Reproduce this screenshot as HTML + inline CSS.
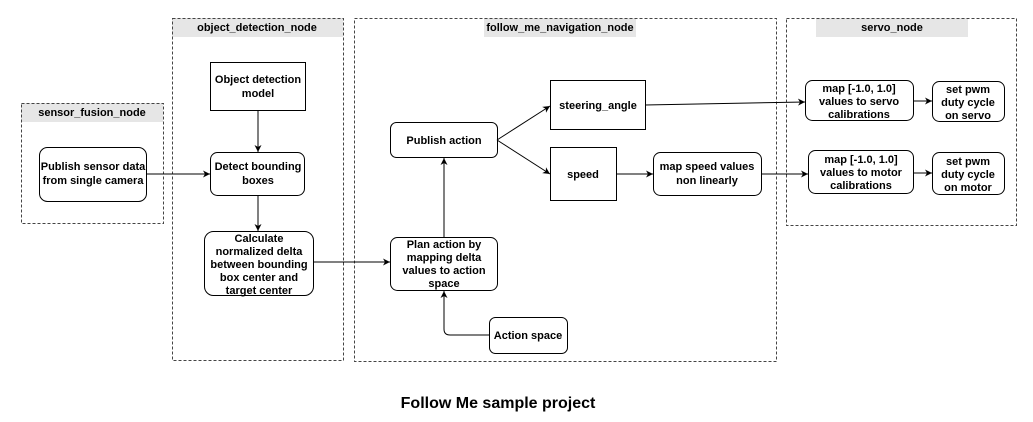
<!DOCTYPE html>
<html><head><meta charset="utf-8"><style>
html,body{margin:0;padding:0;background:#fff;}
svg{display:block;}
text{font-family:"Liberation Sans",Arial,sans-serif;font-weight:bold;font-size:11px;fill:#000;text-anchor:middle;}
.c{fill:none;stroke:#444;stroke-width:1;stroke-dasharray:3,2;}
.h{fill:#e6e6e6;stroke:none;}
.b{fill:#fff;stroke:#000;stroke-width:1;}
.l{fill:none;stroke:#000;stroke-width:1;}
</style></head><body>
<svg width="1033" height="422" viewBox="0 0 1033 422" xmlns="http://www.w3.org/2000/svg">
<defs><marker id="a" markerWidth="8" markerHeight="8" refX="7" refY="4" orient="auto" markerUnits="userSpaceOnUse"><path d="M0,0.5 L7,4 L0,7.5 L2,4 Z" fill="#000"/></marker></defs>
<!-- containers -->
<rect class="h" x="21" y="103" width="142" height="19"/>
<rect class="c" x="21.5" y="103.5" width="142" height="120"/>
<text x="92" y="116">sensor_fusion_node</text>
<rect class="h" x="172" y="18" width="171" height="19"/>
<rect class="c" x="172.5" y="18.5" width="171" height="342"/>
<text x="257" y="31">object_detection_node</text>
<rect class="h" x="484" y="18" width="152" height="19"/>
<rect class="c" x="354.5" y="18.5" width="422" height="343"/>
<text x="560" y="31">follow_me_navigation_node</text>
<rect class="h" x="816" y="18" width="152" height="19"/>
<rect class="c" x="786.5" y="18.5" width="230" height="207"/>
<text x="892" y="31">servo_node</text>
<!-- nodes -->
<rect class="b" x="39.5" y="147.5" width="107" height="54" rx="8"/>
<text x="93" y="170">Publish sensor data</text><text x="93" y="184">from single camera</text>
<rect class="b" x="210.5" y="62.5" width="95" height="48"/>
<text x="258" y="83">Object detection</text><text x="258" y="97">model</text>
<rect class="b" x="210.5" y="152.5" width="94" height="43" rx="7"/>
<text x="258" y="170">Detect bounding</text><text x="258" y="184">boxes</text>
<rect class="b" x="204.5" y="231.5" width="109" height="64" rx="9"/>
<text x="259" y="242">Calculate</text><text x="259" y="255">normalized delta</text><text x="259" y="268">between bounding</text><text x="259" y="281">box center and</text><text x="259" y="294">target center</text>
<rect class="b" x="390.5" y="122.5" width="107" height="35" rx="6"/>
<text x="444" y="144">Publish action</text>
<rect class="b" x="550.5" y="80.5" width="95" height="49"/>
<text x="598" y="109">steering_angle</text>
<rect class="b" x="550.5" y="147.5" width="66" height="53"/>
<text x="583" y="178">speed</text>
<rect class="b" x="653.5" y="152.5" width="108" height="43" rx="7"/>
<text x="707" y="170">map speed values</text><text x="707" y="184">non linearly</text>
<rect class="b" x="390.5" y="237.5" width="107" height="53" rx="7"/>
<text x="444" y="248">Plan action by</text><text x="444" y="261">mapping delta</text><text x="444" y="274">values to action</text><text x="444" y="287">space</text>
<rect class="b" x="489.5" y="317.5" width="78" height="36" rx="6"/>
<text x="528" y="339">Action space</text>
<rect class="b" x="805.5" y="80.5" width="108" height="40" rx="7"/>
<text x="859" y="92">map [-1.0, 1.0]</text><text x="859" y="105">values to servo</text><text x="859" y="118">calibrations</text>
<rect class="b" x="932.5" y="81.5" width="72" height="40" rx="7"/>
<text x="968" y="93">set pwm</text><text x="968" y="106">duty cycle</text><text x="968" y="119">on servo</text>
<rect class="b" x="808.5" y="150.5" width="105" height="43" rx="7"/>
<text x="861" y="163">map [-1.0, 1.0]</text><text x="861" y="176">values to motor</text><text x="861" y="189">calibrations</text>
<rect class="b" x="932.5" y="152.5" width="72" height="42" rx="7"/>
<text x="968" y="165">set pwm</text><text x="968" y="178">duty cycle</text><text x="968" y="191">on motor</text>
<!-- edges -->
<path class="l" d="M146,174 H210" marker-end="url(#a)"/>
<path class="l" d="M258,111 V152" marker-end="url(#a)"/>
<path class="l" d="M258,196 V231" marker-end="url(#a)"/>
<path class="l" d="M313,262 H390" marker-end="url(#a)"/>
<path class="l" d="M444,237 V158" marker-end="url(#a)"/>
<path class="l" d="M489,335 H450 Q444,335 444,329 V291" marker-end="url(#a)"/>
<path class="l" d="M497,140 L550,106" marker-end="url(#a)"/>
<path class="l" d="M497,140 L550,174" marker-end="url(#a)"/>
<path class="l" d="M645,105 L805,102" marker-end="url(#a)"/>
<path class="l" d="M616,174 H653" marker-end="url(#a)"/>
<path class="l" d="M761,174 H808" marker-end="url(#a)"/>
<path class="l" d="M913,101 H932" marker-end="url(#a)"/>
<path class="l" d="M913,173 H932" marker-end="url(#a)"/>
<text x="498" y="408" style="font-size:16px">Follow Me sample project</text>
</svg>
</body></html>
